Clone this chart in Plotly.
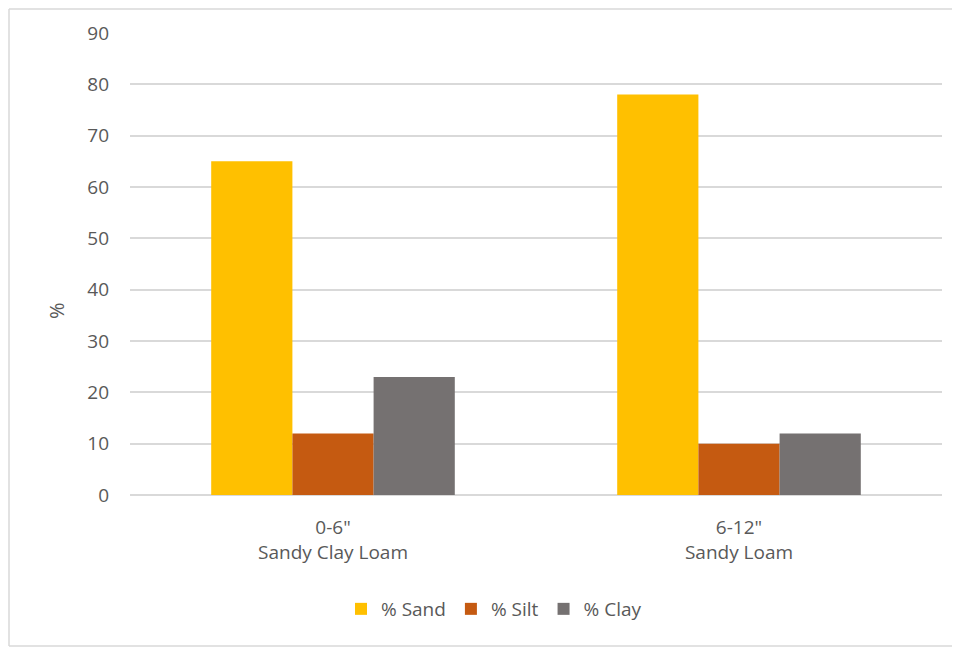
import plotly.graph_objects as go

categories = ['0-6"<br>Sandy Clay Loam', '6-12"<br>Sandy Loam']
series_names = ["% Sand", "% Silt", "% Clay"]
sand = [65, 78]
silt = [12, 10]
clay = [23, 12]
colors = ["#FFC000", "#C55A11", "#757171"]
y_ticks = [0, 10, 20, 30, 40, 50, 60, 70, 80, 90]
y_title = "%"

fig = go.Figure()
for name, vals, col in zip(series_names, [sand, silt, clay], colors):
    fig.add_trace(go.Bar(x=categories, y=vals, name=name, marker=dict(color=col, line=dict(width=0))))

# page has an 8px body margin; target coordinates are page pixels
OFF = 8
W, H = 952, 639
L, R, T, B = 130, 942, 33, 495  # plot area in page pixels

def px(x):
    return (x - L) / (R - L)

def py(y):
    return (B - y) / (B - T)

border = dict(color="#D9D9D9", width=1.5)

fig.update_layout(
    width=W, height=H,
    margin=dict(l=L - OFF, r=W + OFF - R, t=T - OFF, b=H + OFF - B, autoexpand=False),
    paper_bgcolor="white", plot_bgcolor="white",
    barmode="group", bargap=0.4, bargroupgap=0,
    font=dict(family="Open Sans, DejaVu Sans, sans-serif", color="#595959", size=19),
    showlegend=True,
    legend=dict(orientation="h", x=px(494), xanchor="center", y=py(609), yanchor="middle",
                font=dict(size=19, color="#595959"), itemwidth=30, traceorder="normal"),
    xaxis=dict(showgrid=False, showline=False, zeroline=False, ticks="",
               tickfont=dict(size=19, color="#595959"), ticklabelstandoff=19),
    yaxis=dict(range=[0, 90], tickvals=y_ticks, showgrid=True, gridcolor="#D9D9D9", gridwidth=1.5,
               zeroline=True, zerolinecolor="#D9D9D9", zerolinewidth=1.5, showline=False,
               tickfont=dict(size=19, color="#595959"), ticklabelstandoff=20),
    annotations=[dict(text=y_title, xref="paper", yref="paper", x=px(56), y=py(311),
                      xanchor="center", yanchor="middle", textangle=-90, showarrow=False,
                      font=dict(size=20, color="#595959"))],
    shapes=[
        dict(type="line", xref="paper", yref="paper", x0=px(9), x1=px(9), y0=py(646), y1=py(9), line=border),
        dict(type="line", xref="paper", yref="paper", x0=px(9), x1=px(1000), y0=py(9), y1=py(9), line=border),
        dict(type="line", xref="paper", yref="paper", x0=px(9), x1=px(1000), y0=py(646), y1=py(646), line=border),
    ],
)

fig.write_html("out.html", config={"displayModeBar": False})
